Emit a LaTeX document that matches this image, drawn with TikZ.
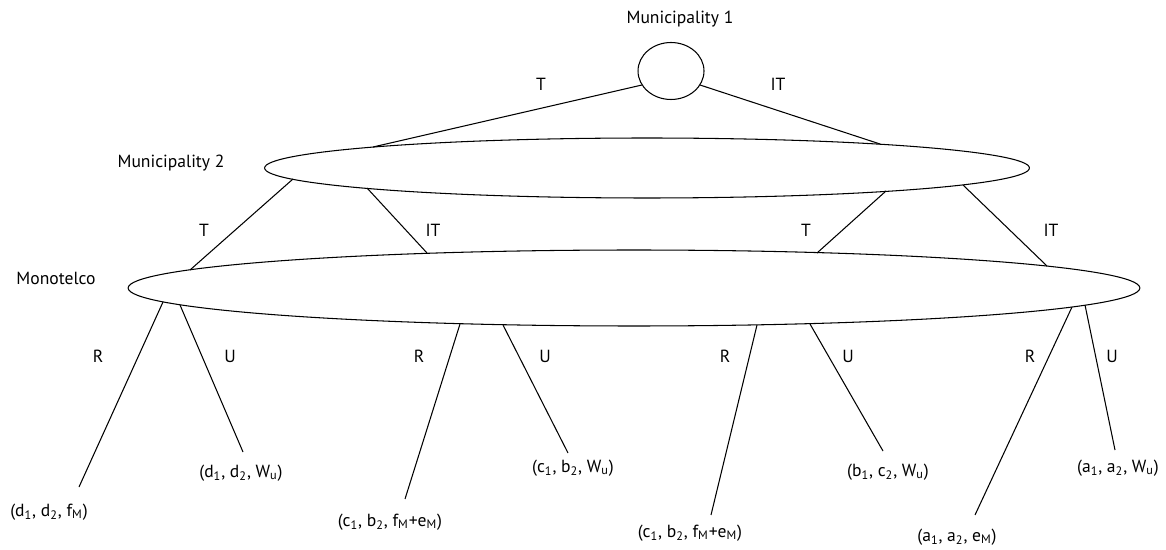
\documentclass[tikz,border=0pt]{standalone}
\usepackage{fontspec}
\setmainfont{PT Sans}
\usetikzlibrary{shapes.geometric, calc}

\begin{document}
\begin{tikzpicture}[
    x=0.02cm, y=-0.02cm,
    stage/.style={
        ellipse,
        draw,
        line width=0.6pt,
        inner sep=0pt,
        outer sep=0pt
    },
    lbl/.style={
        inner sep=1pt,
        font=\fontsize{10}{12}\selectfont
    },
    branch/.style={
        line width=0.6pt
    }
]

\useasboundingbox (0,0) rectangle (1166,550);

% Players

\node[stage, minimum width=1.32cm, minimum height=1.14cm] (mun1) at (671,71) {};
\node[stage, minimum width=15.3cm, minimum height=1.2cm] (mun2) at (647,168) {};
\node[stage, minimum width=20.24cm, minimum height=1.52cm] (mono) at (634,288) {};

\node[lbl] (mun1name) at (680,19) {Municipality 1};
\node[lbl] (mun2name) at (171,163) {Municipality 2};
\node[lbl] (mononame) at (56,278) {Monotelco};


% Payoffs

\node[lbl] (pda) at (49,512) {(d\textsubscript{1}, d\textsubscript{2}, f\textsubscript{M})};
\node[lbl] (pdb) at (241,473) {(d\textsubscript{1}, d\textsubscript{2}, W\textsubscript{u})};
\node[lbl] (pca) at (390,522) {(c\textsubscript{1}, b\textsubscript{2}, f\textsubscript{M}+e\textsubscript{M})};
\node[lbl] (pcb) at (573,468) {(c\textsubscript{1}, b\textsubscript{2}, W\textsubscript{u})};
\node[lbl] (pcc) at (690,533) {(c\textsubscript{1}, b\textsubscript{2}, f\textsubscript{M}+e\textsubscript{M})};
\node[lbl] (pbb) at (888,472) {(b\textsubscript{1}, c\textsubscript{2}, W\textsubscript{u})};
\node[lbl] (paa) at (957,537) {(a\textsubscript{1}, a\textsubscript{2}, e\textsubscript{M})};
\node[lbl] (pab) at (1118,468) {(a\textsubscript{1}, a\textsubscript{2}, W\textsubscript{u})};


% Branches (points on the ellipses, from their centres)

\draw[branch] ($(mun1)+(-29,14)$) -- ($(mun2)+(-274,-21)$);
\draw[branch] ($(mun1)+(29,14)$) -- ($(mun2)+(233,-24)$);

\draw[branch] ($(mun2)+(-354,11)$) -- ($(mono)+(-444,-18)$);
\draw[branch] ($(mun2)+(-280,20)$) -- ($(mono)+(-207,-35)$);
\draw[branch] ($(mun2)+(239,23)$) -- ($(mono)+(183,-35)$);
\draw[branch] ($(mun2)+(316,17)$) -- ($(mono)+(413,-22)$);

\draw[branch] ($(mono)+(-471,14)$) -- ($(pda)+(30,-25)$);
\draw[branch] ($(mono)+(-454,17)$) -- ($(pdb)+(2,-21)$);
\draw[branch] ($(mono)+(-174,36)$) -- ($(pca)+(15,-23)$);
\draw[branch] ($(mono)+(-131,37)$) -- ($(pcb)+(-5,-15)$);
\draw[branch] ($(mono)+(123,37)$) -- ($(pcc)+(21,-18)$);
\draw[branch] ($(mono)+(176,36)$) -- ($(pbb)+(-5,-21)$);
\draw[branch] ($(mono)+(438,19)$) -- ($(paa)+(18,-22)$);
\draw[branch] ($(mono)+(451,17)$) -- ($(pab)+(-3,-18)$);


% Choices

\node[lbl] (t1) at (541,84) {T};
\node[lbl] (it1) at (778,84) {IT};

\node[lbl] (t2) at (204,230) {T};
\node[lbl] (it2) at (433,230) {IT};
\node[lbl] (t3) at (806,230) {T};
\node[lbl] (it3) at (1051,230) {IT};

\node[lbl] (r1) at (98,356) {R};
\node[lbl] (u1) at (230,356) {U};
\node[lbl] (r2) at (419,356) {R};
\node[lbl] (u2) at (545,356) {U};
\node[lbl] (r3) at (725,356) {R};
\node[lbl] (u3) at (848,356) {U};
\node[lbl] (r4) at (1030,356) {R};
\node[lbl] (u4) at (1112,356) {U};

\end{tikzpicture}
\end{document}
